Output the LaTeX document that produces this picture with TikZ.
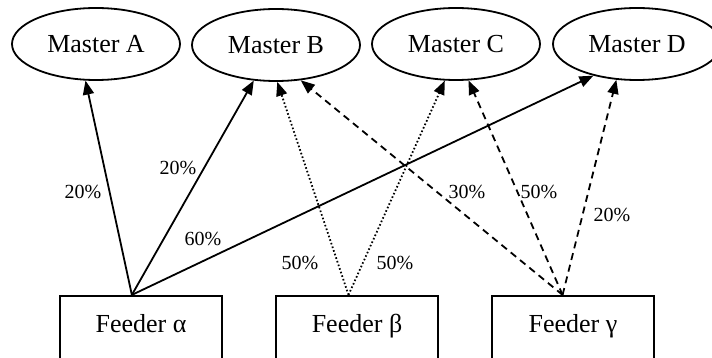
\documentclass[tikz,border=0pt]{standalone}
\usepackage{fontspec}
\setmainfont{Liberation Serif}
\usetikzlibrary{arrows.meta, shapes.geometric}

\tikzset{
  master/.style={draw, ellipse, line width=1.8pt, minimum width=168pt,
    minimum height=72pt, inner sep=0pt, font=\fontsize{26}{30}\selectfont},
  feeder/.style={draw, rectangle, line width=2.2pt, minimum width=162pt,
    minimum height=66pt, inner sep=0pt, text depth=12pt,
    font=\fontsize{26}{30}\selectfont},
  share/.style={inner sep=0pt, font=\fontsize{20}{24}\selectfont},
  flow/.style={line width=1.8pt, -{Triangle[length=14pt,width=11pt]}},
  flowdot/.style={flow, dash pattern=on 1.6pt off 2.2pt},
  flowdash/.style={flow, dash pattern=on 7pt off 5pt}
}

\begin{document}
\begin{tikzpicture}[x=1pt, y=-1pt]
  \useasboundingbox (0,0) rectangle (712,358);
  % Masters
  \node[master] (mA) at (96,44) {Master A};
  \node[master] (mB) at (276,45) {Master B};
  \node[master] (mC) at (456,44) {Master C};
  \node[master] (mD) at (637,44) {Master D};
  % Feeders
  \node[feeder] (fa) at (141,329) {Feeder α};
  \node[feeder] (fb) at (357,329) {Feeder β};
  \node[feeder] (fc) at (573,329) {Feeder γ};
  % Feeder alpha
  \draw[flow] (fa.105) -- (mA.-106);
  \draw[flow] (fa.105) -- (mB.-122);
  \draw[flow] (fa.105) -- (mD.-144);
  % Feeder beta
  \draw[flowdot] (fb.104) -- (mB.-88);
  \draw[flowdot] (fb.104) -- (mC.-107);
  % Feeder gamma
  \draw[flowdash] (fc.107) -- (mB.-55);
  \draw[flowdash] (fc.107) -- (mC.-71);
  \draw[flowdash] (fc.107) -- (mD.-120);
  % Shares
  \node[share] (sa1) at (83,192) {20\%};
  \node[share] (sa2) at (178,168) {20\%};
  \node[share] (sa3) at (203,239) {60\%};
  \node[share] (sb1) at (300,263) {50\%};
  \node[share] (sb2) at (395,263) {50\%};
  \node[share] (sc1) at (467,192) {30\%};
  \node[share] (sc2) at (539,192) {50\%};
  \node[share] (sc3) at (612,215) {20\%};
\end{tikzpicture}
\end{document}
